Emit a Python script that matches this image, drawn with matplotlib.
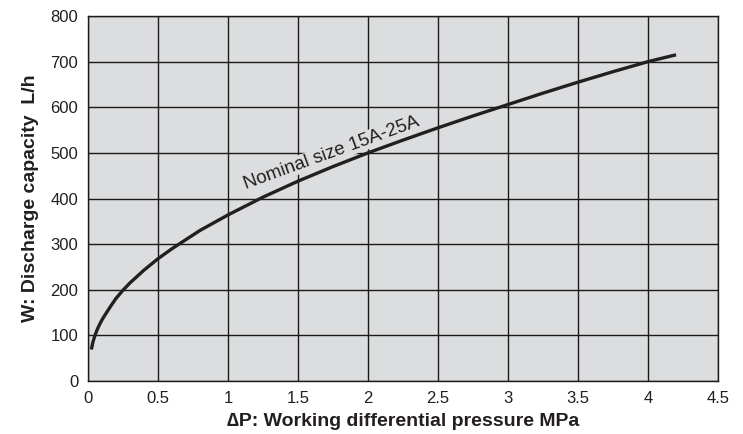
import numpy as np
import matplotlib
matplotlib.use("Agg")
import matplotlib.pyplot as plt

plt.rcParams['font.family'] = ['Liberation Sans', 'DejaVu Sans']

# データ
pressure = [0.024, 0.035, 0.05, 0.065, 0.08, 0.1, 0.12, 0.16, 0.2, 0.25, 0.3,
            0.4, 0.5, 0.6, 0.7, 0.8, 0.9, 1.0, 1.25, 1.5, 1.75, 2.0, 2.25,
            2.5, 2.75, 3.0, 3.25, 3.5, 3.75, 4.0, 4.2]
capacity = [69, 85, 100, 112, 122, 134, 144, 163, 181, 199, 215,
            243, 268, 290, 310, 330, 347, 364, 403, 438, 470, 500, 528,
            555, 581, 606, 631, 655, 678, 700, 715]
x_ticks = [0, 0.5, 1, 1.5, 2, 2.5, 3, 3.5, 4, 4.5]
y_ticks = [0, 100, 200, 300, 400, 500, 600, 700, 800]
curve_label = "Nominal size 15A-25A"

ink = '#231f20'
bg = '#dcdddf'

fig = plt.figure(figsize=(7.43, 4.34), dpi=100)
ax = fig.add_axes([0.1184, 0.1221, 0.848, 0.841])
ax.set_facecolor(bg)

ax.plot(pressure, capacity, color=ink, lw=2.4, solid_capstyle='butt',
        solid_joinstyle='round', zorder=3)

ax.set_xlim(0, 4.5)
ax.set_ylim(0, 800)
ax.set_xticks(x_ticks)
ax.set_xticklabels(['0', '0.5', '1', '1.5', '2', '2.5', '3', '3.5', '4', '4.5'])
ax.set_yticks(y_ticks)
ax.tick_params(length=0, labelsize=12, labelcolor=ink, pad=7)
ax.grid(True, color='#1a1a1a', lw=1.0, zorder=1)
ax.set_axisbelow(True)
for s in ax.spines.values():
    s.set_color('#1a1a1a')
    s.set_linewidth(1.0)

ax.text(1.74, 500, curve_label, rotation=20, ha='center', va='center',
        fontsize=13.5, color=ink, zorder=4,
        bbox=dict(facecolor=bg, edgecolor='none', pad=0.5))

ax.set_xlabel('\u2206P: Working differential pressure MPa', fontsize=14,
              fontweight='bold', color=ink, labelpad=5)
ax.set_ylabel('W: Discharge capacity  L/h', fontsize=14,
              fontweight='bold', color=ink, labelpad=8)

fig.savefig('out.png', dpi=100)
